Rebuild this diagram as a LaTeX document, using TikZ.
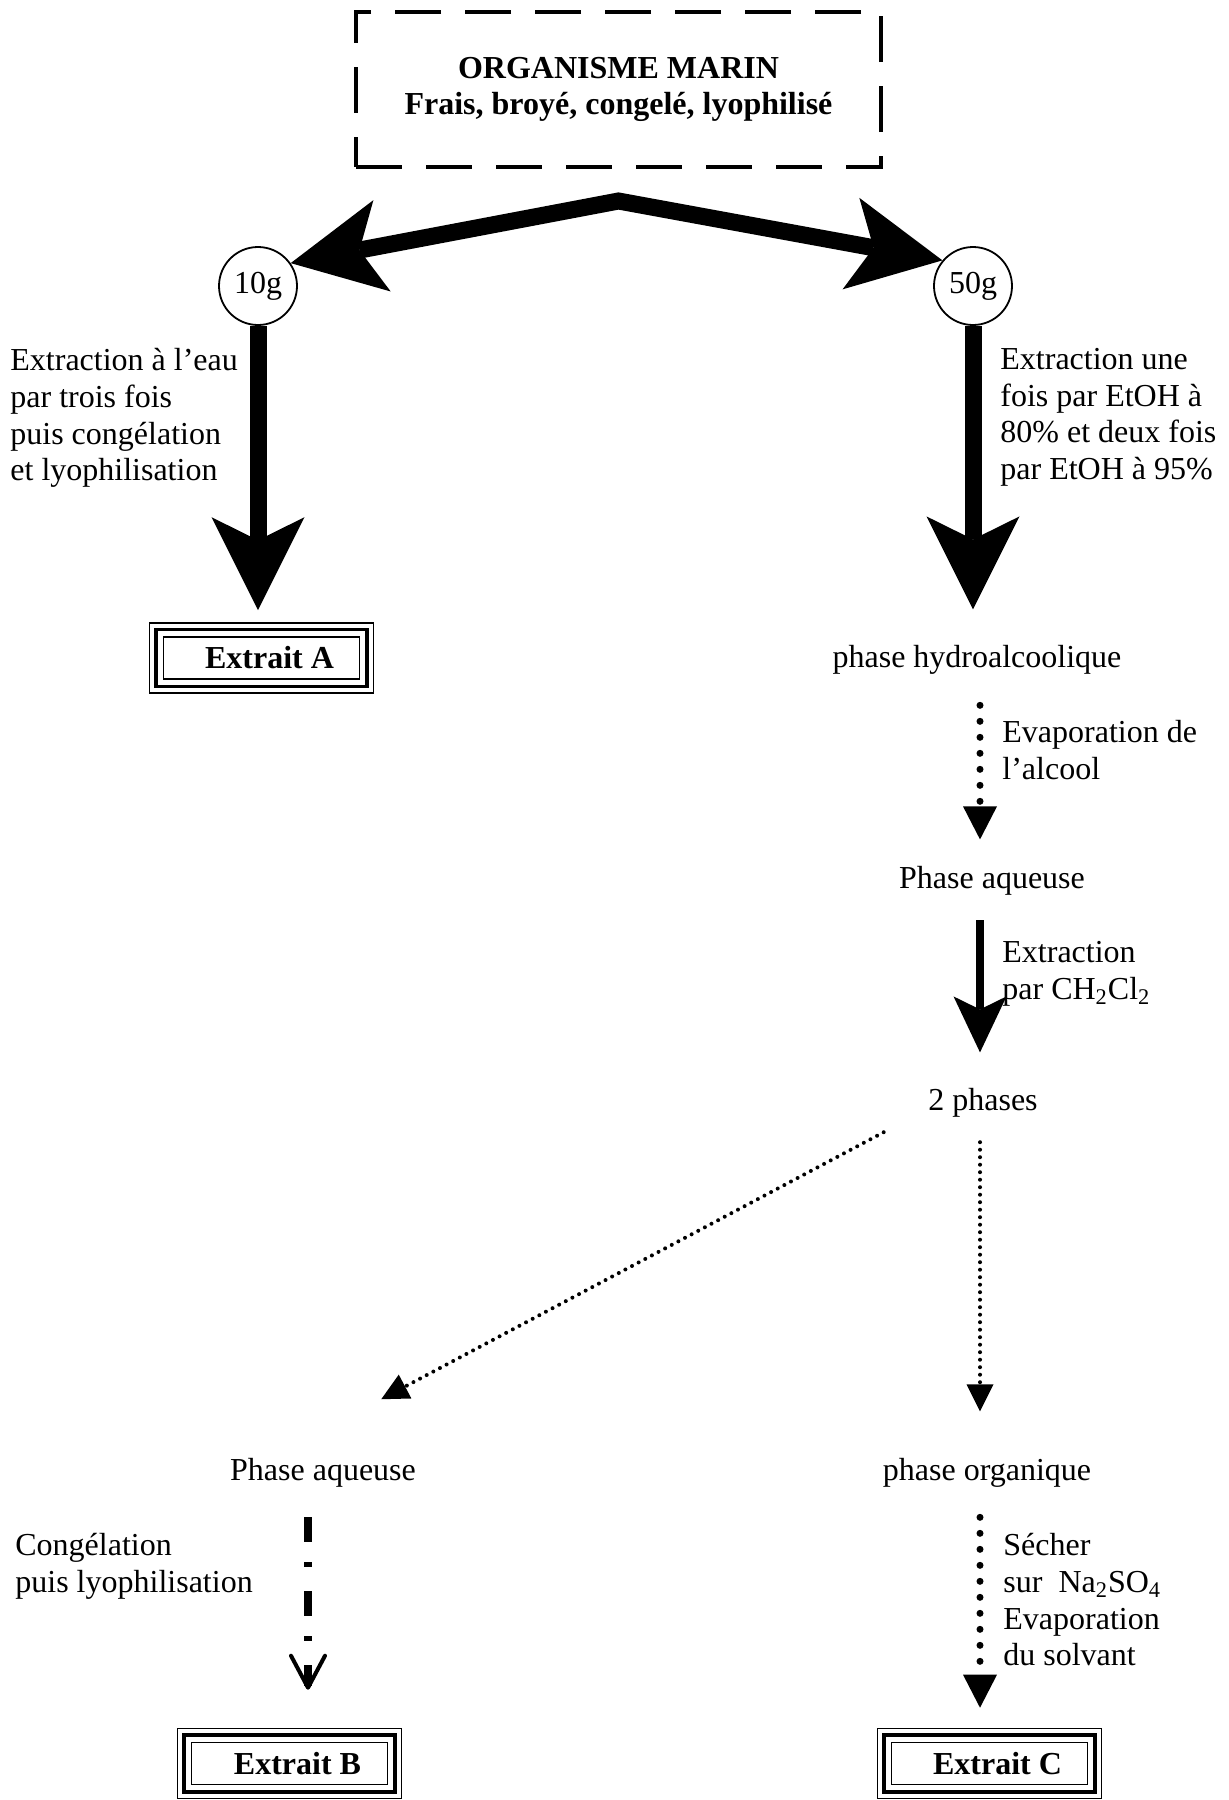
\documentclass[tikz,border=0pt]{standalone}
\usepackage{fontspec}
\setmainfont{Liberation Serif}
\usetikzlibrary{arrows.meta}

\tikzset{
  bighead/.tip={Stealth[length=46.5pt, width=46.5pt, inset=11.5pt, line width=0pt]},
  midhead/.tip={Stealth[length=28pt, width=26.5pt, inset=6.5pt, line width=0pt]},
  dothead/.tip={Triangle[length=16.5pt, width=17pt, line width=0pt]},
  finehead/.tip={Triangle[length=13.5pt, width=13.5pt, line width=0pt]},
  openhead/.tip={Straight Barb[length=16pt, width=17pt, line width=2pt, round]},
  bigarrow/.style={line width=8.5pt, -bighead},
  midarrow/.style={line width=4pt, -midhead},
  dotarrow/.style={line width=3.5pt, line cap=round, dash pattern=on 0pt off 8pt, -dothead},
  finearrow/.style={line width=2pt, line cap=round, dash pattern=on 0pt off 3.75pt, -finehead},
  dasharrow/.style={line width=3.75pt, dash pattern=on 12.5pt off 10pt on 2.5pt off 12pt, -openhead},
  txt/.style={font=\fontsize{16}{18.35}\selectfont, inner sep=0pt},
  note/.style={txt, align=left, anchor=north west},
  orgbox/.style={draw, line width=2pt, dash pattern=on 23pt off 12pt, minimum width=262.5pt,
    minimum height=77.5pt, align=center, font=\fontsize{16}{17.75}\selectfont\bfseries},
  portion/.style={draw, circle, line width=0.9pt, minimum size=39pt, inner sep=0pt,
    font=\fontsize{16}{18}\selectfont},
  extrait/.style={draw, line width=0.8pt, minimum width=112pt, minimum height=35pt, inner sep=0pt,
    font=\fontsize{16}{18}\selectfont\bfseries,
    path picture={
      \draw[line width=1.8pt] ([shift={(3.2pt,-3.2pt)}]path picture bounding box.north west)
        rectangle ([shift={(-3.2pt,3.2pt)}]path picture bounding box.south east);
      \draw[line width=0.8pt] ([shift={(7pt,-7pt)}]path picture bounding box.north west)
        rectangle ([shift={(-7pt,7pt)}]path picture bounding box.south east);
    }}
}

\begin{document}
\begin{tikzpicture}[x=0.5pt, y=-0.5pt]
    \useasboundingbox (0,0) rectangle (1229,1800);

    % Starting material
    \node[orgbox] (org) at (618.5,89.5) {ORGANISME MARIN\\Frais, broyé, congelé, lyophilisé};
    \coordinate (apex) at ([yshift=-16pt]org.south);

    % Two portions
    \node[portion] (c10) at (258,286) {10g};
    \node[portion] (c50) at (973,286) {50g};
    \draw[line width=8.5pt, bighead-bighead] (c10.35) -- (apex) -- (c50.140);

    % Water extraction
    \node[note] (lblA) at (10,348) {Extraction à l’eau\\par trois fois\\puis congélation\\et lyophilisation};
    \node[extrait] (extA) at (261.5,658) {\hspace*{8pt}Extrait A};
    \draw[bigarrow, shorten >=6pt] (c10.south) -- (c10.south |- extA.north);

    % Ethanol extraction
    \node[note] (lblB) at (1000,348) {Extraction une\\fois par EtOH à\\80\% et deux fois\\par EtOH à 95\%};
    \node[txt, anchor=base] (hydro) at (977,667) {phase hydroalcoolique};
    \draw[bigarrow, shorten >=17.5pt] (c50.south) -- (c50.south |- hydro.north);
    \coordinate (rcol) at (980,0);

    \node[note] (lblEvap) at (1002,720) {Evaporation de\\l’alcool};
    \node[txt, anchor=base] (aq1) at (992,888) {Phase aqueuse};
    \draw[dotarrow, shorten <=15.5pt, shorten >=13pt] (hydro.south -| rcol) -- (aq1.north -| rcol);

    \node[note] (lblCH) at (1002,941) {Extraction\\par CH\textsubscript{2}Cl\textsubscript{2}};
    \node[txt, anchor=base] (two) at (983,1110) {2 phases};
    \draw[midarrow, shorten <=12.5pt, shorten >=17.5pt] (aq1.south -| rcol) -- (two.north -| rcol);

    % Separation
    \node[txt, anchor=base] (aq2) at (323,1480) {Phase aqueuse};
    \node[txt, anchor=base] (org2) at (987,1480) {phase organique};
    \draw[finearrow, shorten <=12.5pt, shorten >=23pt] (two.south -| rcol) -- (org2.north -| rcol);
    \draw[finearrow, shorten <=16pt, shorten >=62pt] ([xshift=-8pt]two.south west) -- ([xshift=21pt]aq2.north west);

    % Extract B
    \node[note] (lblCong) at (15,1533) {Congélation\\puis lyophilisation};
    \node[extrait] (extB) at (289.5,1763.5) {\hspace*{8pt}Extrait B};
    \draw[dasharrow, shorten <=15pt, shorten >=19pt] ([xshift=-7.5pt]aq2.south) -- ([xshift=-7.5pt]aq2.south |- extB.north);

    % Extract C
    \node[note] (lblSech) at (1003,1533) {Sécher\\sur\ \ Na\textsubscript{2}SO\textsubscript{4}\\Evaporation\\du solvant};
    \node[extrait] (extC) at (989.5,1763.5) {\hspace*{8pt}Extrait C};
    \draw[dotarrow, shorten <=15pt, shorten >=10pt] (org2.south -| rcol) -- (extC.north -| rcol);

\end{tikzpicture}
\end{document}
